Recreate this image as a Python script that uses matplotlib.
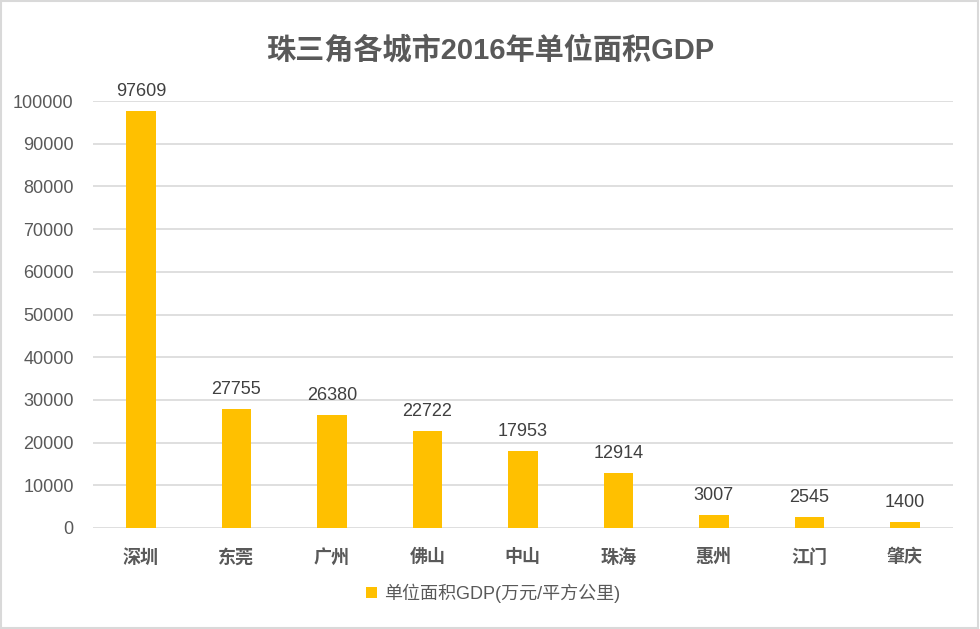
import matplotlib
matplotlib.use("Agg")
import matplotlib.pyplot as plt
from matplotlib.patches import Rectangle

plt.rcParams['font.family'] = ['Liberation Sans', 'Noto Sans CJK SC', 'DejaVu Sans']

cities = ["深圳", "东莞", "广州", "佛山", "中山", "珠海", "惠州", "江门", "肇庆"]
gdp_per_area = [97609, 27755, 26380, 22722, 17953, 12914, 3007, 2545, 1400]
yticks = list(range(0, 100001, 10000))

GRAY = "#595959"
BAR = "#FFC000"

fig = plt.figure(figsize=(9.8, 6.29), dpi=100)
ax = fig.add_axes([0.095, 0.1606, 0.877, 0.6788])

x = range(len(cities))
bars = ax.bar(x, gdp_per_area, width=0.31, color=BAR, zorder=3,
              label="单位面积GDP(万元/平方公里)")
for b, v in zip(bars, gdp_per_area):
    ax.annotate(f"{v}", (b.get_x() + b.get_width() / 2, v),
                xytext=(0, 8), textcoords="offset points",
                ha="center", va="bottom", fontsize=13, color="#404040")

ax.set_xlim(-0.5, len(cities) - 0.5)
ax.set_ylim(0, 100000)
ax.set_yticks(yticks)
ax.set_yticklabels([str(t) for t in yticks], fontsize=13, color=GRAY)
ax.set_xticks(list(x))
ax.set_xticklabels(cities, fontsize=13, fontweight="bold", color=GRAY)
ax.tick_params(axis="both", length=0)
ax.tick_params(axis="x", pad=15)
ax.tick_params(axis="y", pad=14)
ax.yaxis.grid(True, color="#D9D9D9", linewidth=1.2, zorder=0)
for s in ax.spines.values():
    s.set_visible(False)

fig.text(0.5, 0.92, "珠三角各城市2016年单位面积GDP", ha="center", va="center",
         fontsize=21, fontweight="bold", color=GRAY)

fig.legend(loc="center", bbox_to_anchor=(0.503, 0.057), frameon=False,
           fontsize=13, labelcolor=GRAY, handlelength=0.6, handleheight=0.6,
           handletextpad=0.4)

fig.patches.append(Rectangle((0.001, 0.001), 0.997, 0.997, transform=fig.transFigure,
                             fill=False, edgecolor="#D9D9D9", linewidth=1.5))

fig.savefig("out.png", dpi=100)
